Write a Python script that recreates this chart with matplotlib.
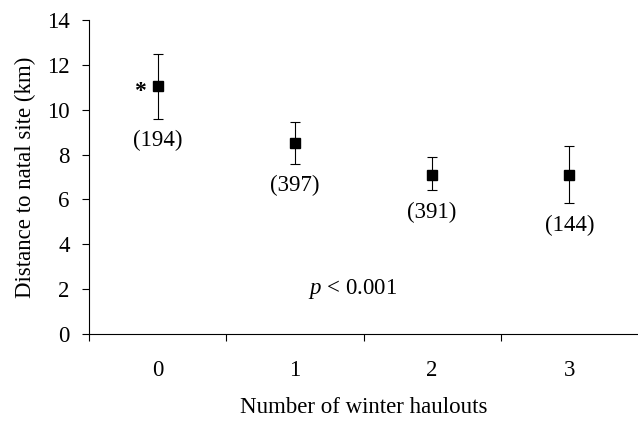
import matplotlib.pyplot as plt
from matplotlib.ticker import FixedLocator

plt.rcParams['font.family'] = ['Liberation Serif', 'DejaVu Serif']
plt.rcParams['mathtext.fontset'] = 'custom'
plt.rcParams['mathtext.it'] = 'Liberation Serif:italic'
plt.rcParams['mathtext.rm'] = 'Liberation Serif'

# mean distance to natal site by number of winter haulouts
haulouts = [0, 1, 2, 3]
mean_km = [11.05, 8.5, 7.1, 7.1]
upper_km = [12.5, 9.45, 7.9, 8.4]
lower_km = [9.6, 7.6, 6.4, 5.85]
sample_n = [194, 397, 391, 144]

err_lo = [m - lo for m, lo in zip(mean_km, lower_km)]
err_hi = [hi - m for m, hi in zip(mean_km, upper_km)]

FS = 16.5

fig = plt.figure(figsize=(6.38, 4.21), dpi=100)
ax = fig.add_axes([0.1395, 0.2067, 0.8605, 0.7458])

ax.errorbar(haulouts, mean_km, yerr=[err_lo, err_hi], fmt='s', color='black',
            markersize=7.5, elinewidth=0.8, capsize=3.5, capthick=0.8)

for x, lo, n in zip(haulouts, lower_km, sample_n):
    ax.annotate(f'({n})', (x, lo), xytext=(0, -16), textcoords='offset points',
                ha='center', va='center', fontsize=FS)

# significance marker next to the zero-haulout group
ax.annotate('*', (haulouts[0], mean_km[0]), xytext=(-13, -8),
            textcoords='offset points', ha='center', va='baseline',
            fontsize=17, fontweight='bold')

ax.text(1.42, 2.0, r'$p$ < 0.001', ha='center', va='center', fontsize=FS)

ax.set_xlim(-0.5, 3.5)
ax.set_ylim(0, 14)
ax.set_yticks(range(0, 15, 2))
ax.set_xticks(haulouts)
ax.xaxis.set_minor_locator(FixedLocator([-0.5, 0.5, 1.5, 2.5]))
ax.tick_params(axis='x', which='major', length=0, pad=19, labelsize=FS)
ax.tick_params(axis='x', which='minor', length=5, width=0.8, direction='out')
ax.tick_params(axis='y', length=5, width=0.8, pad=9, labelsize=FS)

for side in ('top', 'right'):
    ax.spines[side].set_visible(False)
for side in ('left', 'bottom'):
    ax.spines[side].set_linewidth(0.8)

ax.set_xlabel('Number of winter haulouts', fontsize=FS, labelpad=11)
ax.set_ylabel('Distance to natal site (km)', fontsize=FS, labelpad=8)

fig.savefig('out.png', dpi=100)
